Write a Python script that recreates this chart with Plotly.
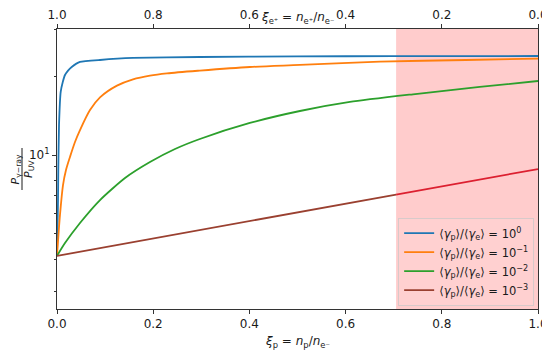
import numpy as np
import plotly.graph_objects as go

# ---- data ----
xi_blue = [0, 0.0021, 0.0027, 0.0042, 0.0077, 0.012, 0.0166, 0.023, 0.0306, 0.0478, 0.0894, 0.158, 0.297, 0.5, 0.7, 1.0]
r_blue = [4.12, 6.73, 8.76, 13.02, 17.40, 19.0, 20.20, 21.0, 21.67, 22.65, 23.05, 23.46, 23.66, 23.78, 23.84, 23.87]

xi_orange = [0, 0.0062, 0.0125, 0.0187, 0.027, 0.0374, 0.0478, 0.0686, 0.0894, 0.1247, 0.158, 0.1933,
             0.2287, 0.297, 0.401, 0.505, 0.6715, 0.85, 1.0]
r_orange = [4.12, 5.90, 7.68, 8.76, 9.83, 11.21, 12.45, 14.85, 16.6, 18.4, 19.45, 20.1,
            20.5, 21.0, 21.67, 22.06, 22.71, 23.05, 23.32]

xi_green = [0, 0.0166, 0.0478, 0.0894, 0.1414, 0.1933, 0.2453, 0.297, 0.401, 0.505, 0.609, 0.740, 0.879, 1.0]
r_green = [4.12, 4.61, 5.50, 6.73, 8.17, 9.40, 10.54, 11.51, 13.25, 14.72, 15.94, 17.05, 18.18, 19.16]

xi_red = [0, 0.25, 0.5, 0.705, 0.75, 1.0]
r_red = [4.12, 4.98, 6.03, 7.06, 7.30, 8.84]

shade_start = 0.705
shade_end = 1.0

bottom_ticks = [0.0, 0.2, 0.4, 0.6, 0.8, 1.0]
top_ticks = [1.0, 0.8, 0.6, 0.4, 0.2, 0.0]
y_major = [10]
y_minor = [3, 4, 5, 6, 7, 8, 9, 20, 30]

legend_names = [
    "⟨<i>γ</i><sub>p</sub>⟩/⟨<i>γ</i><sub>e</sub>⟩ = 10<sup>0</sup>",
    "⟨<i>γ</i><sub>p</sub>⟩/⟨<i>γ</i><sub>e</sub>⟩ = 10<sup>−1</sup>",
    "⟨<i>γ</i><sub>p</sub>⟩/⟨<i>γ</i><sub>e</sub>⟩ = 10<sup>−2</sup>",
    "⟨<i>γ</i><sub>p</sub>⟩/⟨<i>γ</i><sub>e</sub>⟩ = 10<sup>−3</sup>",
]

FONT = "DejaVu Sans"
TXT = "#1a1a1a"
LW = 1.8

fig = go.Figure()
fig.add_trace(go.Scatter(x=xi_blue, y=r_blue, mode="lines", name=legend_names[0],
                         line=dict(color="#1f77b4", width=LW, shape="spline", smoothing=0.4)))
fig.add_trace(go.Scatter(x=xi_orange, y=r_orange, mode="lines", name=legend_names[1],
                         line=dict(color="#ff7f0e", width=LW, shape="spline", smoothing=0.8)))
fig.add_trace(go.Scatter(x=xi_green, y=r_green, mode="lines", name=legend_names[2],
                         line=dict(color="#2ca02c", width=LW, shape="spline", smoothing=0.6)))

xr = np.array(xi_red)
rr = np.array(r_red)
m_out = xr <= shade_start
m_in = xr >= shade_start
fig.add_trace(go.Scatter(x=xr[m_out], y=rr[m_out], mode="lines", name=legend_names[3],
                         line=dict(color="#9a4030", width=LW)))
fig.add_trace(go.Scatter(x=xr[m_in], y=rr[m_in], mode="lines", showlegend=False,
                         line=dict(color="#dc2030", width=LW)))

# dummy trace to activate the top axis
fig.add_trace(go.Scatter(x=[None], y=[None], xaxis="x2", showlegend=False, hoverinfo="skip"))

fig.add_shape(type="rect", xref="x", yref="paper", x0=shade_start, x1=shade_end, y0=0, y1=1,
              fillcolor="rgba(255,0,0,0.2)", line=dict(width=0), layer="below")

axis_common = dict(showline=True, linecolor="#333", linewidth=1, showgrid=False, zeroline=False,
                   ticks="outside", ticklen=4, tickcolor="#333", automargin=False,
                   tickfont=dict(family=FONT, size=12, color=TXT))

# page body has an 8px default margin, so the figure is 8px smaller on each axis
fig.update_layout(
    width=542, height=346,
    margin=dict(l=49, r=12, t=21, b=45, autoexpand=False),
    paper_bgcolor="white", plot_bgcolor="white",
    font=dict(family=FONT, size=12, color=TXT),
    xaxis=dict(range=[0, 1], tickvals=bottom_ticks, ticktext=[f"{v:.1f}" for v in bottom_ticks],
               mirror=False, **axis_common),
    xaxis2=dict(range=[1, 0], overlaying="x", side="top", anchor="y", tickvals=top_ticks,
                ticktext=[f"{v:.1f}" for v in top_ticks], **axis_common),
    yaxis=dict(type="log", range=[0.4122, 1.4809], tickvals=y_major, ticktext=["10<sup>1</sup>"],
               mirror=True,
               minor=dict(tickvals=y_minor, ticks="outside", ticklen=2, tickcolor="#333"),
               **axis_common),
    showlegend=True,
    legend=dict(x=0.992, y=0.012, xanchor="right", yanchor="bottom",
                bgcolor="rgba(255,255,255,0.08)", bordercolor="rgba(200,200,200,0.7)", borderwidth=1,
                font=dict(family=FONT, size=11.5, color=TXT), tracegroupgap=0),
)

annots = [
    dict(text="<i>ξ</i><sub>p</sub> = <i>n</i><sub>p</sub>/<i>n</i><sub>e⁻</sub>",
         x=0.5, y=(309 - 342) / 280, yanchor="middle", size=12),
    dict(text="<i>ξ</i><sub>e⁺</sub> = <i>n</i><sub>e⁺</sub>/<i>n</i><sub>e⁻</sub>",
         x=0.5, y=(309 - 8) / 280, yanchor="top", size=12),
    dict(text="<i>P</i><sub>γ−ray</sub>", x=(15.5 - 57) / 481, y=(309 - 169) / 280, textangle=-90,
         yanchor="middle", size=11),
    dict(text="<i>P</i><sub>UV</sub>", x=(29 - 57) / 481, y=(309 - 169) / 280, textangle=-90,
         yanchor="middle", size=11),
]
for a in annots:
    sz = a.pop("size")
    fig.add_annotation(xref="paper", yref="paper", showarrow=False, xanchor="center",
                       font=dict(family=FONT, size=sz, color=TXT), **a)

fig.add_shape(type="line", xref="paper", yref="paper",
              x0=(22 - 57) / 481, x1=(22 - 57) / 481, y0=(309 - 148) / 280, y1=(309 - 190) / 280,
              line=dict(color=TXT, width=1))

fig.write_html("out.html")
